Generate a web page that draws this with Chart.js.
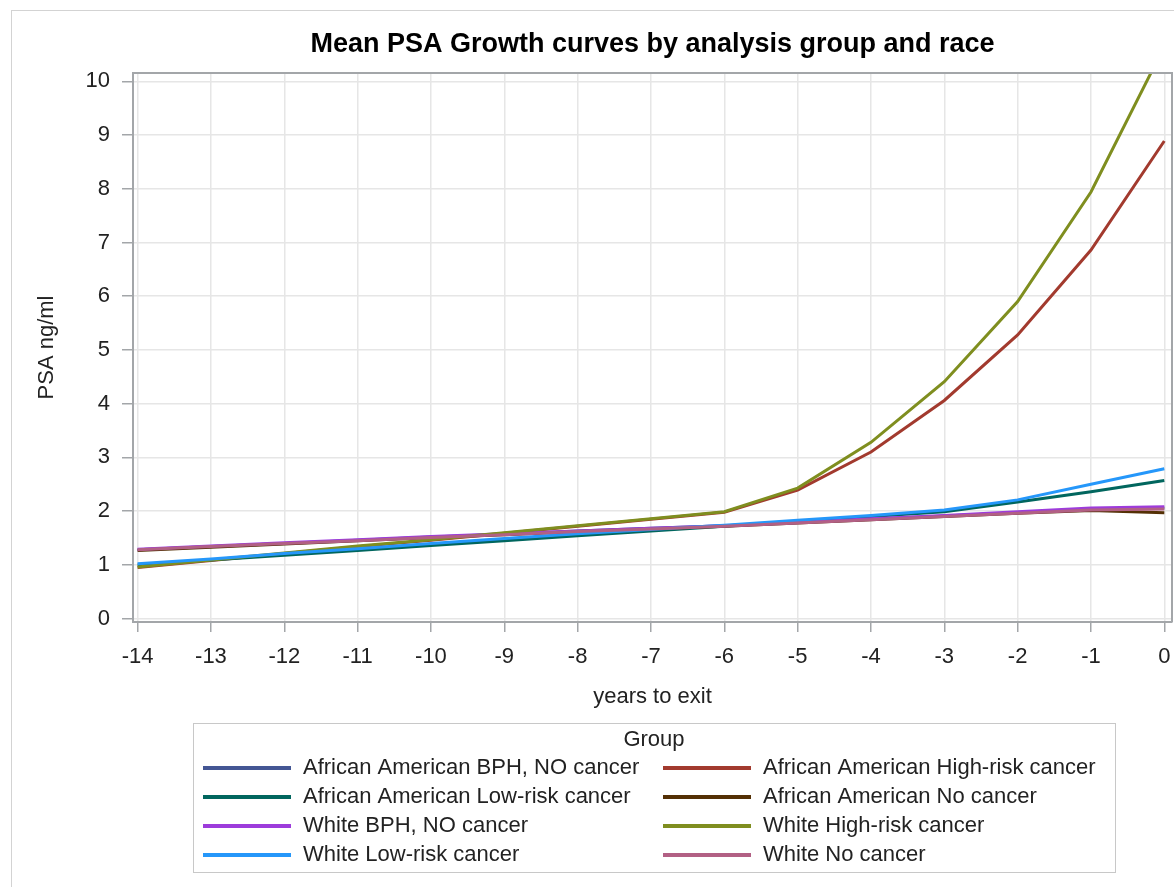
<!DOCTYPE html>
<html>
<head>
<meta charset="utf-8">
<title>Mean PSA Growth curves by analysis group and race</title>
<script src="https://cdn.jsdelivr.net/npm/chart.js@4"></script>
<style>
  body { margin: 0; background: #fff; }
  #page { position: absolute; left: 11px; top: 10px; width: 1163px; height: 877px;
          border-left: 1px solid #d3d3d3; border-top: 1px solid #d3d3d3; }
  #chart { position: absolute; left: 0; top: 0; }
</style>
</head>
<body>
<div id="page"></div>
<canvas id="chart" width="1174" height="887"></canvas>
<script>
// years before exit
const years = [-14, -13, -12, -11, -10, -9, -8, -7, -6, -5, -4, -3, -2, -1, 0];

const groupNames = [
    'African American BPH, NO cancer',
    'African American High-risk cancer',
    'African American Low-risk cancer',
    'African American No cancer',
    'White BPH, NO cancer',
    'White High-risk cancer',
    'White Low-risk cancer',
    'White No cancer'
];
const groupColors = ['#445694', '#A23A2E', '#01665E', '#543005', '#9D3CDB', '#7F8E1F', '#2597FA', '#B26084'];

// mean PSA (ng/ml) per group, one value per year
const aaBph       = [1.28, 1.34, 1.40, 1.46, 1.52, 1.57, 1.63, 1.68, 1.73, 1.79, 1.85, 1.91, 1.97, 2.03, 2.06];
const aaHighRisk  = [0.95, 1.08, 1.21, 1.34, 1.46, 1.59, 1.72, 1.85, 1.98, 2.39, 3.10, 4.06, 5.28, 6.86, 8.89];
const aaLowRisk   = [1.00, 1.09, 1.18, 1.27, 1.36, 1.45, 1.54, 1.63, 1.72, 1.81, 1.90, 1.99, 2.17, 2.36, 2.57];
const aaNoCancer  = [1.27, 1.33, 1.39, 1.45, 1.51, 1.56, 1.62, 1.67, 1.72, 1.78, 1.84, 1.90, 1.96, 2.01, 1.97];
const whBph       = [1.29, 1.35, 1.41, 1.47, 1.53, 1.58, 1.63, 1.68, 1.73, 1.79, 1.86, 1.92, 1.99, 2.06, 2.08];
const whHighRisk  = [0.96, 1.09, 1.22, 1.35, 1.47, 1.60, 1.73, 1.86, 1.99, 2.43, 3.28, 4.41, 5.90, 7.94, 10.65];
const whLowRisk   = [1.02, 1.11, 1.21, 1.30, 1.40, 1.49, 1.58, 1.66, 1.74, 1.83, 1.92, 2.02, 2.21, 2.50, 2.79];
const whNoCancer  = [1.28, 1.34, 1.40, 1.45, 1.51, 1.56, 1.62, 1.67, 1.72, 1.78, 1.84, 1.90, 1.96, 2.02, 2.04];

const seriesValues = [aaBph, aaHighRisk, aaLowRisk, aaNoCancer, whBph, whHighRisk, whLowRisk, whNoCancer];

const chartTitle = 'Mean PSA Growth curves by analysis group and race';
const legendTitle = 'Group';
const FONT = '"Liberation Sans", Arial, sans-serif';
const AXIS_GRAY = '#a3a6a9';

const datasets = groupNames.map((name, i) => ({
    label: name,
    data: years.map((yr, j) => ({ x: yr, y: seriesValues[i][j] })),
    borderColor: groupColors[i],
    backgroundColor: groupColors[i],
    borderWidth: 3,
    pointRadius: 0,
    tension: 0,
    fill: false,
    order: groupNames.length - i   // later groups sit on top
}));

// title centred over the plot, top/right frame and the two-column group legend
const decorations = {
    id: 'decorations',
    afterDatasetsDraw(chart) {
        const ctx = chart.ctx;
        const area = chart.chartArea;
        ctx.save();
        ctx.strokeStyle = AXIS_GRAY;
        ctx.lineWidth = 2;
        ctx.beginPath();
        ctx.moveTo(area.left, area.top);
        ctx.lineTo(area.right, area.top);
        ctx.lineTo(area.right, area.bottom);
        ctx.stroke();
        ctx.restore();
    },
    afterDraw(chart) {
        const ctx = chart.ctx;
        const area = chart.chartArea;
        const midX = (area.left + area.right) / 2;
        ctx.save();

        ctx.fillStyle = '#000';
        ctx.font = 'bold 27px ' + FONT;
        ctx.textAlign = 'center';
        ctx.textBaseline = 'alphabetic';
        ctx.fillText(chartTitle, midX, 52);

        // legend box
        const box = { left: 193, top: 723, right: 1115, bottom: 872 };
        ctx.strokeStyle = '#c8c8c8';
        ctx.lineWidth = 1;
        ctx.strokeRect(box.left + 0.5, box.top + 0.5, box.right - box.left, box.bottom - box.top);

        ctx.fillStyle = '#222';
        ctx.font = '22px ' + FONT;
        ctx.textBaseline = 'middle';
        ctx.fillText(legendTitle, (box.left + box.right) / 2, 740);

        const rowY = [768, 797, 826, 855];
        const colX = [203, 663];
        ctx.textAlign = 'left';
        groupNames.forEach((name, i) => {
            const x = colX[i % 2];
            const y = rowY[Math.floor(i / 2)];
            ctx.strokeStyle = groupColors[i];
            ctx.lineWidth = 4;
            ctx.beginPath();
            ctx.moveTo(x, y);
            ctx.lineTo(x + 88, y);
            ctx.stroke();
            ctx.fillStyle = '#222';
            ctx.fillText(name, x + 100, y);
        });
        ctx.restore();
    }
};

new Chart(document.getElementById('chart'), {
    type: 'line',
    data: { datasets: datasets },
    options: {
        responsive: false,
        animation: false,
        devicePixelRatio: 1,
        layout: { padding: { top: 73, right: 2, bottom: 177, left: 0 } },
        scales: {
            x: {
                type: 'linear',
                min: -14.063,
                max: 0.105,
                afterFit: s => {
                    s.height = 88;
                    s.paddingLeft = 0;
                    s.paddingRight = 0;
                },
                ticks: {
                    stepSize: 1,
                    includeBounds: false,
                    color: '#222',
                    padding: 12,
                    maxRotation: 0,
                    font: { family: FONT, size: 22 }
                },
                grid: { color: '#e6e6e6', lineWidth: 1.5, tickColor: AXIS_GRAY, tickLength: 10 },
                border: { color: AXIS_GRAY, width: 2 },
                title: {
                    display: true,
                    text: 'years to exit',
                    color: '#222',
                    padding: 0,
                    font: { family: FONT, size: 22 }
                }
            },
            y: {
                type: 'linear',
                min: -0.063,
                max: 10.155,
                afterFit: s => {
                    s.width = 133;
                    s.paddingTop = 0;
                    s.paddingBottom = 0;
                },
                ticks: {
                    stepSize: 1,
                    includeBounds: false,
                    color: '#222',
                    padding: 12,
                    font: { family: FONT, size: 22 }
                },
                grid: { color: '#e6e6e6', lineWidth: 1.5, tickColor: AXIS_GRAY, tickLength: 11 },
                border: { color: AXIS_GRAY, width: 2 },
                title: {
                    display: true,
                    text: 'PSA ng/ml',
                    color: '#222',
                    padding: { top: 34, bottom: 0 },
                    font: { family: FONT, size: 22 }
                }
            }
        },
        plugins: {
            legend: { display: false },
            title: { display: false },
            tooltip: { enabled: false }
        }
    },
    plugins: [decorations]
});
</script>
</body>
</html>
